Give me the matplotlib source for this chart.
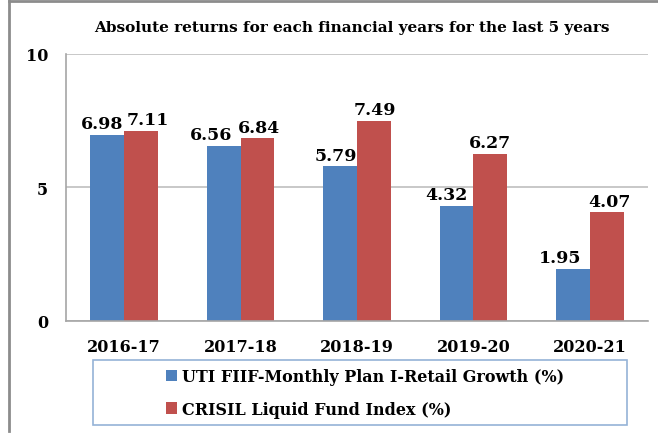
import matplotlib.pyplot as plt
import numpy as np
from matplotlib.patches import Rectangle
from matplotlib.lines import Line2D

years = ["2016-17", "2017-18", "2018-19", "2019-20", "2020-21"]
uti = [6.98, 6.56, 5.79, 4.32, 1.95]
crisil = [7.11, 6.84, 7.49, 6.27, 4.07]
series_names = ["UTI FIIF-Monthly Plan I-Retail Growth (%)", "CRISIL Liquid Fund Index (%)"]

# horizontal nudges (points) of the value labels, as placed in the original
uti_nudge = [-4, -9, -3, -7, -9]
crisil_nudge = [5, 1, 1, 0, 2]

plt.rcParams["font.family"] = "DejaVu Serif"
plt.rcParams["font.weight"] = "bold"

fig = plt.figure(figsize=(6.58, 4.35), dpi=100)
ax = fig.add_axes([0.1003, 0.2598, 0.8846, 0.6138])

x = np.arange(len(years))
w = 0.29
b1 = ax.bar(x - w / 2, uti, w, color="#4F81BD", label=series_names[0])
b2 = ax.bar(x + w / 2, crisil, w, color="#C0504D", label=series_names[1])
for bars, vals, nud in ((b1, uti, uti_nudge), (b2, crisil, crisil_nudge)):
    for r, v, n in zip(bars, vals, nud):
        ax.annotate(f"{v:.2f}", (r.get_x() + r.get_width() / 2, v),
                    xytext=(n, 2), textcoords="offset points",
                    ha="center", va="bottom", fontsize=12.5, fontweight="bold")

ax.set_xlim(-0.5, 4.5)
ax.set_ylim(0, 10)
ax.set_yticks([0, 5, 10])
ax.set_xticks(x)
ax.set_xticklabels(years)
ax.tick_params(axis="both", length=0, labelsize=11.5)
ax.tick_params(axis="y", pad=13)
ax.tick_params(axis="x", pad=12)
ax.yaxis.grid(True, color="#BFBFBF", linewidth=1.2)
ax.set_axisbelow(True)
for s in ["top", "right"]:
    ax.spines[s].set_visible(False)
for s in ["left", "bottom"]:
    ax.spines[s].set_color("#A6A6A6")
    ax.spines[s].set_linewidth(1.2)

fig.text(0.535, 0.935, "Absolute returns for each financial years for the last 5 years",
         ha="center", va="center", fontsize=11, fontweight="bold")

# legend box
fig.patches.append(Rectangle((93 / 658, 1 - 426 / 435), 534 / 658, 65 / 435,
                             transform=fig.transFigure, fill=False,
                             edgecolor="#95B3D7", linewidth=1.2))
fig.legend(loc="center", bbox_to_anchor=(365 / 658, 1 - 394 / 435), frameon=False,
           fontsize=11.5, handlelength=0.7, handleheight=0.7, handletextpad=0.3,
           labelspacing=0.95)

# outer border (left and top)
fig.lines.append(Line2D([9 / 658, 9 / 658], [1 - 432 / 435, 1 - 2 / 435],
                        transform=fig.transFigure, color="#8C8C8C", linewidth=2))
fig.lines.append(Line2D([9 / 658, 1], [1 - 2 / 435, 1 - 2 / 435],
                        transform=fig.transFigure, color="#8C8C8C", linewidth=2))

fig.savefig("out.png", dpi=100)
